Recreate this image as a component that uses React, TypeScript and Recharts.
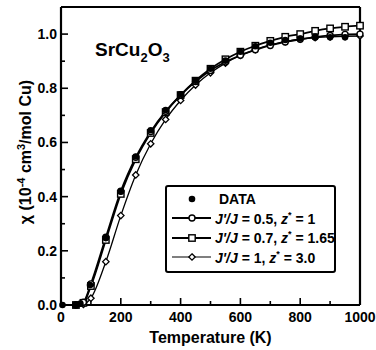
import React from 'react';
import { LineChart, Line, XAxis, YAxis, Legend } from 'recharts';

// measured susceptibility
const dataT = [5, 50, 65, 97, 150, 200, 250, 300, 350, 400, 450, 500, 550, 600, 650, 700, 750, 800, 850, 900, 950];
const dataChi = [0, 0, 0.005, 0.074, 0.247, 0.42, 0.548, 0.645, 0.72, 0.778, 0.828, 0.872, 0.902, 0.935, 0.955, 0.968, 0.978, 0.984, 0.988, 0.988, 0.988];

// model curves
const modelT = [50, 75, 100, 150, 200, 250, 300, 350, 400, 450, 500, 550, 600, 650, 700, 750, 800, 850, 900, 950, 1000];
const chiJ05 = [0, 0.01, 0.078, 0.25, 0.42, 0.545, 0.64, 0.715, 0.775, 0.825, 0.866, 0.897, 0.922, 0.942, 0.958, 0.971, 0.981, 0.989, 0.995, 0.999, 1.0];
const chiJ07 = [0, 0.008, 0.07, 0.24, 0.41, 0.538, 0.635, 0.712, 0.775, 0.828, 0.872, 0.907, 0.935, 0.957, 0.975, 0.99, 1.0, 1.012, 1.021, 1.027, 1.031];
const chiJ10 = [0, 0.002, 0.025, 0.16, 0.33, 0.48, 0.595, 0.685, 0.755, 0.812, 0.857, 0.893, 0.921, 0.943, 0.96, 0.972, 0.981, 0.987, 0.99, 0.992, 0.993];

const xTicks = [0, 100, 200, 300, 400, 500, 600, 700, 800, 900, 1000];
const yTicks = [0, 0.1, 0.2, 0.3, 0.4, 0.5, 0.6, 0.7, 0.8, 0.9, 1.0];

const toRows = (xs: number[], ys: number[]) => xs.map((T, i) => ({ T, chi: ys[i] }));
const dataRows = toRows(dataT, dataChi);
const rowsJ05 = toRows(modelT, chiJ05);
const rowsJ07 = toRows(modelT, chiJ07);
const rowsJ10 = toRows(modelT, chiJ10);

const FONT = '"Liberation Sans", Arial, Helvetica, sans-serif';

const isMajorX = (v: number) => Math.round(v) % 200 === 0;
const isMajorY = (v: number) => Math.round(v * 10) % 2 === 0;

function TickMark(props: any) {
  const { x, y, payload, side } = props;
  const v = payload.value;
  const major = side === 'bottom' || side === 'top' ? isMajorX(v) : isMajorY(v);
  const len = major ? 7 : 4;
  let line;
  if (side === 'bottom') line = <line x1={x} y1={y} x2={x} y2={y - len} />;
  else if (side === 'top') line = <line x1={x} y1={y} x2={x} y2={y + len} />;
  else if (side === 'left') line = <line x1={x} y1={y} x2={x + len} y2={y} />;
  else line = <line x1={x} y1={y} x2={x - len} y2={y} />;
  return (
    <g stroke="#000" strokeWidth={1.6}>
      {line}
      {major && side === 'bottom' &&
      <text x={x} y={y + 17} textAnchor="middle" fontFamily={FONT} fontWeight="bold" fontSize={14} fill="#000" stroke="none">
          {Math.round(v)}
        </text>
      }
      {major && side === 'left' &&
      <text x={x - 4} y={y + 5} textAnchor="end" fontFamily={FONT} fontWeight="bold" fontSize={14} fill="#000" stroke="none">
          {v.toFixed(1)}
        </text>
      }
    </g>);

}

const CircleDot = (p: any) =>
<circle key={p.index} cx={p.cx} cy={p.cy} r={3} fill="#fff" stroke="#000" strokeWidth={1.4} />;

const SquareDot = (p: any) =>
<rect key={p.index} x={p.cx - 3.2} y={p.cy - 3.2} width={6.4} height={6.4} fill="#fff" stroke="#000" strokeWidth={1.4} />;

const DiamondDot = (p: any) =>
<path key={p.index} d={`M${p.cx},${p.cy - 3.2}L${p.cx + 3.2},${p.cy}L${p.cx},${p.cy + 3.2}L${p.cx - 3.2},${p.cy}Z`} fill="#fff" stroke="#000" strokeWidth={1.3} />;

const FilledDot = (p: any) =>
<circle key={p.index} cx={p.cx} cy={p.cy} r={3.3} fill="#000" stroke="none" />;

const legendItems = [
{ kind: 'data', j: '', rest: 'DATA' },
{ kind: 'circle', j: "J'/J", rest: ' = 0.5, ', z: '1' },
{ kind: 'square', j: "J'/J", rest: ' = 0.7, ', z: '1.65' },
{ kind: 'diamond', j: "J'/J", rest: ' = 1, ', z: '3.0' }];


function LegendBox() {
  return (
    <div
      style={{
        width: 167,
        height: 82,
        border: '2.5px solid #000',
        borderRadius: 3,
        background: '#fff',
        fontFamily: FONT,
        fontWeight: 'bold',
        fontSize: 14,
        paddingTop: 2
      }}>
      {legendItems.map((it, i) =>
      <div key={i} style={{ display: 'flex', alignItems: 'center', height: 19.5 }}>
          <svg width={46} height={14} style={{ flex: 'none' }}>
            {it.kind !== 'data' &&
          <line x1={5} y1={7} x2={44} y2={7} stroke="#000" strokeWidth={it.kind === 'diamond' ? 1.2 : 1.8} />
          }
            {it.kind === 'data' && <circle cx={25} cy={7} r={3.3} fill="#000" />}
            {it.kind === 'circle' && <circle cx={25} cy={7} r={3} fill="#fff" stroke="#000" strokeWidth={1.4} />}
            {it.kind === 'square' && <rect x={21.8} y={3.8} width={6.4} height={6.4} fill="#fff" stroke="#000" strokeWidth={1.4} />}
            {it.kind === 'diamond' && <path d="M25,3.8L28.2,7L25,10.2L21.8,7Z" fill="#fff" stroke="#000" strokeWidth={1.3} />}
          </svg>
          <span style={{ whiteSpace: 'nowrap', marginLeft: it.kind === 'data' ? 6 : 2 }}>
            {it.kind === 'data' ? it.rest :
          <>
                <i>{it.j}</i>
                {it.rest}
                <i>z</i>
                <sup style={{ fontSize: 9 }}>*</sup>
                {' = ' + it.z}
              </>
          }
          </span>
        </div>
      )}
    </div>);

}

export default function App() {
  return (
    <div style={{ position: 'absolute', left: 0, top: 0, width: 376, height: 350, background: '#fff' }}>
      <LineChart width={376} height={350} margin={{ top: 6, right: 15, left: 21, bottom: 0 }}>
        <XAxis
          xAxisId="bottom"
          dataKey="T"
          type="number"
          domain={[0, 1000]}
          ticks={xTicks}
          interval={0}
          height={45}
          tickSize={0}
          tickMargin={0}
          tickLine={false}
          axisLine={{ stroke: '#000', strokeWidth: 2.2 }}
          tick={<TickMark side="bottom" />}
          label={{
            value: 'Temperature (K)',
            position: 'insideBottom',
            offset: 7,
            style: { fontFamily: FONT, fontWeight: 'bold', fontSize: 16, fill: '#000' }
          }} />

        <XAxis
          xAxisId="top"
          orientation="top"
          dataKey="T"
          type="number"
          domain={[0, 1000]}
          ticks={xTicks}
          interval={0}
          height={1}
          tickSize={0}
          tickMargin={0}
          tickLine={false}
          axisLine={{ stroke: '#000', strokeWidth: 2.2 }}
          tick={<TickMark side="top" />} />

        <YAxis
          yAxisId="left"
          type="number"
          domain={[0, 1.1]}
          ticks={yTicks}
          interval={0}
          width={40}
          tickSize={0}
          tickMargin={0}
          tickLine={false}
          axisLine={{ stroke: '#000', strokeWidth: 2.2 }}
          tick={<TickMark side="left" />}
          label={{
            content: () =>
            <text
              transform="translate(31,152) rotate(-90)"
              textAnchor="middle"
              fontFamily={FONT}
              fontWeight="bold"
              fontSize={16}
              fill="#000">
                χ (10<tspan dy={-6} fontSize={11}>-4</tspan>
                <tspan dy={6}> cm</tspan>
                <tspan dy={-6} fontSize={11}>3</tspan>
                <tspan dy={6}>/mol Cu)</tspan>
              </text>

          }} />

        <YAxis
          yAxisId="right"
          orientation="right"
          type="number"
          domain={[0, 1.1]}
          ticks={yTicks}
          interval={0}
          width={1}
          tickSize={0}
          tickMargin={0}
          tickLine={false}
          axisLine={{ stroke: '#000', strokeWidth: 2.2 }}
          tick={<TickMark side="right" />} />

        <Legend
          layout="vertical"
          align="center"
          verticalAlign="middle"
          content={() => <LegendBox />}
          wrapperStyle={{ left: 165, top: 185, width: 172, height: 87 }} />

        <Line
          xAxisId="bottom"
          yAxisId="left"
          data={rowsJ10}
          dataKey="chi"
          name="J'/J = 1, z* = 3.0"
          stroke="#000"
          strokeWidth={1.3}
          type="monotone"
          dot={DiamondDot}
          isAnimationActive={false} />

        <Line
          xAxisId="bottom"
          yAxisId="left"
          data={rowsJ07}
          dataKey="chi"
          name="J'/J = 0.7, z* = 1.65"
          stroke="#000"
          strokeWidth={1.8}
          type="monotone"
          dot={SquareDot}
          isAnimationActive={false} />

        <Line
          xAxisId="bottom"
          yAxisId="left"
          data={rowsJ05}
          dataKey="chi"
          name="J'/J = 0.5, z* = 1"
          stroke="#000"
          strokeWidth={1.8}
          type="monotone"
          dot={CircleDot}
          isAnimationActive={false} />

        <Line
          xAxisId="bottom"
          yAxisId="left"
          data={dataRows}
          dataKey="chi"
          name="DATA"
          stroke="none"
          dot={FilledDot}
          isAnimationActive={false} />

      </LineChart>
      <svg width={376} height={350} style={{ position: 'absolute', left: 0, top: 0, pointerEvents: 'none' }}>
        <text x={95} y={56} fontFamily={FONT} fontWeight="bold" fontSize={19} fill="#000">
          SrCu<tspan dy={6} fontSize={13}>2</tspan>
          <tspan dy={-6}>O</tspan>
          <tspan dy={6} fontSize={13}>3</tspan>
        </text>
      </svg>
    </div>);

}
